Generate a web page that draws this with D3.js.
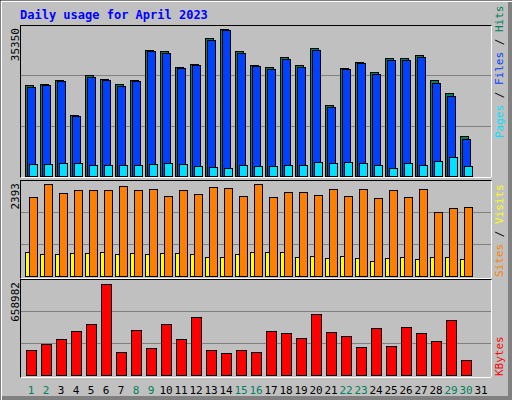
<!DOCTYPE html>
<html><head><meta charset="utf-8">
<script src="https://cdn.jsdelivr.net/npm/d3@7"></script>
<style>body{margin:0;background:#fff}</style>
</head><body>
<script>
// values
var days = d3.range(1, 32);
var weekend = [1, 2, 8, 9, 15, 16, 22, 23, 29, 30];
var hits = [21886, 22126, 23088, 14670, 24290, 23328, 22126, 23088, 30300, 30060, 26210, 26940, 33190, 35350, 30060,
  26700, 26210, 28620, 26700, 30780, 17075, 25970, 27420, 25010, 28380, 28380, 29100, 23090, 19960, 9620, 0];
var files = [21400, 21880, 22850, 14430, 23800, 23090, 21640, 22850, 30060, 29580, 25970, 26700, 32700, 35110, 29580,
  26460, 25730, 28140, 26220, 30300, 16590, 25730, 27180, 24530, 27900, 27900, 28620, 22370, 19240, 8900, 0];
var pages = [2886, 2886, 3126, 3126, 2645, 2645, 2645, 2645, 2886, 3126, 2886, 2405, 2164, 1924, 2645,
  2405, 2405, 2645, 2645, 3367, 3126, 3367, 3126, 2645, 1924, 3126, 2645, 3607, 4570, 2405, 0];
var visits = [2033, 2367, 2135, 2213, 2213, 2213, 2316, 2213, 2239, 2059, 2213, 2110, 2290, 2264, 2059,
  2367, 2033, 2162, 2162, 2084, 2239, 2059, 2239, 2007, 2213, 2033, 2239, 1647, 1750, 1775, 0];
var sites = [618, 566, 566, 592, 592, 618, 566, 592, 566, 592, 592, 566, 489, 489, 566,
  618, 618, 618, 489, 515, 463, 515, 463, 386, 463, 489, 437, 489, 489, 437, 0];
var kbytes = [181050, 224500, 260700, 318650, 369340, 658982, 166570, 326000, 195500, 369340, 260700, 420000, 181050, 159300, 181050,
  166570, 318650, 304160, 268000, 441800, 311400, 282400, 202800, 340400, 210000, 347600, 304160, 246200, 398300, 108600, 0];
var maxTop = 35350, maxMid = 2393, maxBot = 658982;

var svg = d3.select("body").append("svg").attr("width", 512).attr("height", 400)
  .style("font-family", "DejaVu Sans Mono, monospace");

// frame
svg.append("rect").attr("width", 512).attr("height", 400).attr("fill", "#c0c0c0");
svg.append("path").attr("d", "M0,400V0H512").attr("fill", "none").attr("stroke", "#fff").attr("stroke-width", 4);
svg.append("path").attr("d", "M2,398H510V2").attr("fill", "none").attr("stroke", "#808080").attr("stroke-width", 4);
svg.append("path").attr("d", "M0,400V0H512").attr("fill", "none").attr("stroke", "#000").attr("stroke-width", 1);

svg.append("text").attr("x", 20).attr("y", 19).attr("fill", "#0000ff")
  .style("font-size", "12px").style("font-weight", "bold").text("Daily usage for April 2023");

var x = d3.scaleBand().domain(days).range([25, 490]);

var panels = [
  {top: 25, bot: 177, y0: 176, y1: 29, max: maxTop},
  {top: 180, bot: 278, y0: 276, y1: 183, max: maxMid},
  {top: 279, bot: 377, y0: 375, y1: 284, max: maxBot}
];
panels.forEach(function(p) {
  p.y = d3.scaleLinear().domain([0, p.max]).range([p.y0, p.y1]);
  svg.append("rect").attr("x", 20.5).attr("y", p.top + 0.5).attr("width", 471).attr("height", p.bot - p.top)
    .attr("fill", "#c0c0c0").attr("stroke", "#000");
  svg.append("path").attr("d", "M20.5," + (p.bot + 0.5) + "H491.5V" + (p.top + 0.5))
    .attr("fill", "none").attr("stroke", "#fff");
  [1, 2].forEach(function(k) {
    var gy = Math.round(p.y0 - (p.y0 - p.top) * k / 3) + 0.5;
    svg.append("line").attr("x1", 21).attr("x2", 491).attr("y1", gy).attr("y2", gy)
      .attr("stroke", "#808080");
  });
  svg.append("text").attr("transform", "translate(19," + (p.top + 3) + ") rotate(-90)")
    .attr("text-anchor", "end").style("font-size", "11px").text(p.max);
});

function bars(vals, p, dx, w, color) {
  svg.append("g").selectAll("rect").data(vals).join("rect")
    .filter(function(d) { return d > 0; })
    .attr("x", function(d, i) { return x(days[i]) + dx + 0.5; })
    .attr("y", function(d) { return Math.round(p.y(d)) + 0.5; })
    .attr("width", w)
    .attr("height", function(d) { return p.y0 - Math.round(p.y(d)); })
    .attr("fill", color).attr("stroke", "#000");
}
bars(hits, panels[0], 0, 8, "#00805c");
bars(files, panels[0], 2, 8, "#0040ff");
bars(pages, panels[0], 4, 8, "#00e0ff");
bars(sites, panels[1], 0, 6, "#ffff00");
bars(visits, panels[1], 4, 8, "#ff8000");
bars(kbytes, panels[2], 1, 10, "#ff0000");

svg.append("g").selectAll("text").data(days).join("text")
  .attr("x", function(d) { return x(d) + 6; }).attr("y", 394)
  .attr("text-anchor", "middle").style("font-size", "11px")
  .attr("fill", function(d) { return weekend.indexOf(d) >= 0 ? "#00805c" : "#000"; })
  .text(function(d) { return d; });

function sideLabel(parts, yEnd) {
  var t = svg.append("text").attr("transform", "translate(503," + yEnd + ") rotate(-90)")
    .style("font-size", "11px");
  parts.forEach(function(pt) { t.append("tspan").attr("fill", pt[1]).text(pt[0]); });
}
sideLabel([["Pages", "#00e0ff"], [" / ", "#000"], ["Files", "#0040ff"], [" / ", "#000"], ["Hits", "#00805c"]], 138);
sideLabel([["Sites", "#ff8000"], [" / ", "#000"], ["Visits", "#ffff00"]], 277);
sideLabel([["KBytes", "#ff0000"]], 376);
</script>
</body></html>
